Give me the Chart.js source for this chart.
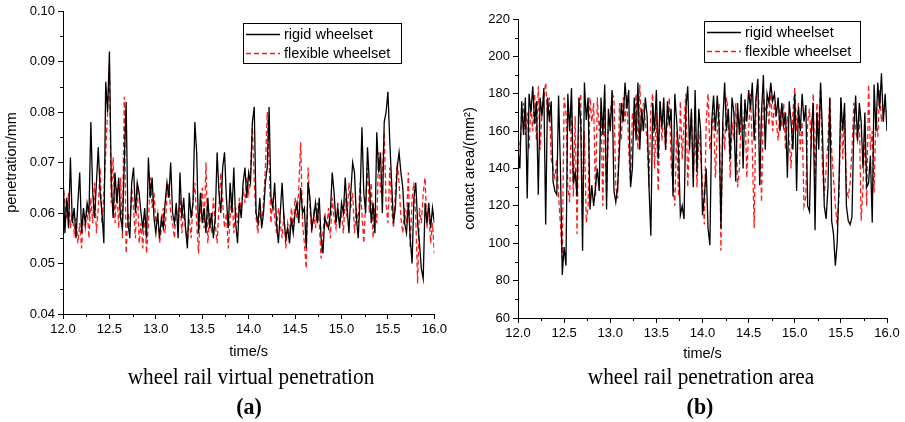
<!DOCTYPE html>
<html>
<head>
<meta charset="utf-8">
<script src="https://cdn.jsdelivr.net/npm/chart.js@4"></script>
<style>
  html,body{margin:0;padding:0;background:#fff;}
  body{width:905px;height:422px;position:relative;overflow:hidden;}
  .cv{position:absolute;top:0;}
  .cap{position:absolute;font-family:"Liberation Serif","Times New Roman",serif;color:#000;text-align:center;white-space:nowrap;transform:translateX(-50%) scaleY(1.08);}
  .sub{font-size:21.3px;top:364px;}
  .lab{font-size:22px;font-weight:bold;top:393px;}
</style>
</head>
<body>
<div class="cv" style="left:0;width:450px;height:365px;"><canvas id="c1" width="450" height="365"></canvas></div>
<div class="cv" style="left:455px;width:450px;height:365px;"><canvas id="c2" width="450" height="365"></canvas></div>
<div class="cap sub" style="left:251px;">wheel rail virtual penetration</div>
<div class="cap lab" style="left:249px;">(a)</div>
<div class="cap sub" style="left:701px;">wheel rail penetration area</div>
<div class="cap lab" style="left:700px;">(b)</div>
<script>
// ---- data ----
const timeStart = 12.0;
const timeStep = 0.02;
const seriesNames = ["rigid wheelset", "flexible wheelset"];
const xTickLabels = ["12.0","12.5","13.0","13.5","14.0","14.5","15.0","15.5","16.0"];

const penetrationRigid = [
0.068,0.056,0.063,0.057,0.071,0.058,0.061,0.055,0.062,0.068,
0.056,0.061,0.058,0.062,0.060,0.078,0.064,0.059,0.066,0.073,
0.064,0.060,0.054,0.086,0.080,0.092,0.066,0.059,0.068,0.062,
0.067,0.059,0.057,0.070,0.082,0.058,0.055,0.066,0.069,0.060,
0.066,0.064,0.060,0.057,0.061,0.055,0.071,0.063,0.067,0.059,
0.056,0.060,0.055,0.059,0.057,0.062,0.066,0.063,0.070,0.060,
0.058,0.062,0.055,0.068,0.059,0.063,0.057,0.053,0.064,0.059,
0.062,0.078,0.072,0.056,0.064,0.058,0.061,0.056,0.063,0.057,
0.060,0.055,0.059,0.072,0.064,0.060,0.069,0.072,0.063,0.057,
0.066,0.060,0.069,0.058,0.054,0.062,0.059,0.066,0.069,0.063,
0.068,0.066,0.078,0.081,0.060,0.058,0.063,0.057,0.060,0.066,
0.069,0.081,0.063,0.061,0.066,0.058,0.054,0.060,0.066,0.059,
0.055,0.057,0.054,0.059,0.056,0.060,0.062,0.058,0.065,0.060,
0.061,0.053,0.066,0.063,0.057,0.059,0.062,0.058,0.063,0.055,
0.052,0.059,0.058,0.057,0.060,0.068,0.064,0.058,0.061,0.057,
0.062,0.060,0.067,0.061,0.056,0.064,0.070,0.068,0.059,0.055,
0.063,0.077,0.064,0.060,0.073,0.066,0.058,0.062,0.056,0.076,
0.068,0.072,0.060,0.078,0.080,0.084,0.074,0.066,0.058,0.061,
0.069,0.072,0.068,0.065,0.058,0.056,0.062,0.055,0.050,0.063,
0.066,0.058,0.054,0.049,0.047,0.062,0.058,0.062,0.057,0.061,
0.058];

const penetrationFlexible = [
0.066,0.062,0.059,0.064,0.057,0.060,0.056,0.059,0.054,0.058,
0.053,0.060,0.057,0.061,0.055,0.063,0.058,0.066,0.056,0.061,
0.069,0.058,0.064,0.072,0.080,0.089,0.062,0.071,0.058,0.065,
0.057,0.067,0.055,0.083,0.052,0.060,0.057,0.065,0.061,0.055,
0.066,0.054,0.058,0.053,0.060,0.052,0.058,0.067,0.061,0.064,
0.058,0.060,0.054,0.057,0.061,0.056,0.064,0.066,0.060,0.058,
0.055,0.061,0.058,0.063,0.056,0.060,0.057,0.054,0.059,0.055,
0.062,0.066,0.058,0.052,0.061,0.065,0.057,0.070,0.054,0.060,
0.056,0.063,0.058,0.054,0.061,0.068,0.062,0.057,0.060,0.053,
0.059,0.064,0.056,0.061,0.058,0.063,0.060,0.065,0.062,0.067,
0.064,0.068,0.077,0.066,0.059,0.056,0.061,0.058,0.062,0.069,
0.080,0.070,0.058,0.063,0.059,0.056,0.061,0.058,0.055,0.060,
0.053,0.058,0.056,0.061,0.057,0.063,0.059,0.065,0.074,0.058,
0.054,0.049,0.069,0.061,0.056,0.060,0.057,0.062,0.058,0.051,
0.056,0.060,0.057,0.061,0.055,0.063,0.059,0.057,0.062,0.058,
0.060,0.056,0.063,0.059,0.066,0.061,0.064,0.056,0.061,0.058,
0.066,0.060,0.054,0.062,0.069,0.060,0.066,0.055,0.061,0.058,
0.072,0.064,0.068,0.076,0.062,0.058,0.069,0.061,0.057,0.064,
0.070,0.066,0.059,0.056,0.061,0.058,0.068,0.053,0.063,0.066,
0.059,0.046,0.061,0.058,0.064,0.067,0.057,0.061,0.054,0.058,
0.052];

const areaRigid = [
150,140,176,158,178,124,180,170,184,164,
176,126,178,168,183,110,178,165,176,133,
128,126,179,140,83,98,88,180,160,183,
132,138,125,178,165,96,186,166,178,118,
131,120,130,140,128,178,158,185,118,172,
160,182,128,122,130,150,175,165,186,172,
182,130,140,178,155,186,150,172,160,178,
168,130,104,175,160,182,145,176,162,178,
150,176,163,172,125,180,165,150,115,120,
113,172,184,150,172,130,182,138,172,160,
115,125,140,108,99,165,179,160,179,163,
108,165,186,160,172,145,178,170,133,175,
158,180,140,177,165,182,172,186,155,178,
188,131,170,190,150,180,175,186,176,180,
168,178,160,175,163,170,135,176,165,150,
180,128,173,160,180,165,174,120,117,160,
175,107,170,150,186,160,120,113,130,178,
112,105,88,100,133,178,160,175,120,112,
110,114,160,179,155,175,165,140,170,130,
132,147,111,185,160,186,172,191,165,180,
160];

const areaFlexible = [
148,152,165,175,158,170,150,175,160,180,
155,184,150,170,178,186,168,178,145,140,
135,145,125,110,92,178,170,130,122,175,
125,168,105,170,180,115,160,111,120,178,
165,175,125,178,160,170,120,180,125,165,
168,180,178,130,124,175,155,178,165,180,
150,132,170,160,180,150,185,160,175,165,
155,130,172,180,140,170,128,176,155,170,
150,165,178,142,132,120,160,125,176,145,
165,180,130,160,170,135,165,130,160,148,
130,110,165,180,150,160,170,135,160,175,
96,165,150,178,170,135,165,155,175,130,
140,170,160,175,135,160,180,150,108,175,
185,165,122,178,170,175,163,182,160,175,
165,155,172,162,175,150,168,155,140,170,
183,160,175,150,165,120,125,165,172,150,
180,130,175,160,185,140,125,140,155,178,
150,135,120,110,125,178,145,170,128,125,
132,150,175,160,155,170,112,130,160,120,
185,150,160,127,170,157,182,165,170,172,
170];

// ---- helpers ----
function toPoints(vals){
  return vals.map((v,i)=>({x: +(timeStart + i*timeStep).toFixed(3), y: v}));
}

const minorTicks = {
  id: 'minorTicks',
  afterDraw(chart, args, o){
    const ctx = chart.ctx, xs = chart.scales.x, ys = chart.scales.y;
    ctx.save();
    ctx.strokeStyle = '#000'; ctx.lineWidth = 1;
    for (let k = 0; ; k++){
      const v = o.xMin + (k + 0.5) * o.xMajor;
      if (v > o.xMax) break;
      const px = Math.round(xs.getPixelForValue(v)) + 0.5;
      ctx.beginPath(); ctx.moveTo(px, ys.bottom); ctx.lineTo(px, ys.bottom + 3); ctx.stroke();
    }
    for (let k = 0; ; k++){
      const v = o.yMin + (k + 0.5) * o.yMajor;
      if (v > o.yMax) break;
      const py = Math.round(ys.getPixelForValue(v)) + 0.5;
      ctx.beginPath(); ctx.moveTo(xs.left, py); ctx.lineTo(xs.left - 3, py); ctx.stroke();
    }
    ctx.restore();
  }
};

const boxLegend = {
  id: 'boxLegend',
  afterDraw(chart, args, o){
    const ctx = chart.ctx;
    ctx.save();
    ctx.strokeStyle = '#000'; ctx.lineWidth = 1;
    ctx.strokeRect(o.x + 0.5, o.y + 0.5, o.w, o.h);
    ctx.font = '14.5px "Liberation Sans", Arial, sans-serif';
    ctx.textBaseline = 'middle';
    chart.data.datasets.forEach((ds, i) => {
      const yy = o.y + 11 + i * 19 + 0.5;
      ctx.beginPath();
      ctx.strokeStyle = ds.borderColor;
      ctx.lineWidth = ds.borderWidth;
      ctx.setLineDash(ds.borderDash || []);
      ctx.moveTo(o.x + 3, yy); ctx.lineTo(o.x + 37, yy); ctx.stroke();
      ctx.setLineDash([]);
      ctx.fillStyle = '#000';
      ctx.fillText(ds.label, o.x + 41, yy);
    });
    ctx.restore();
  }
};

function makeChart(id, rigid, flex, cfg){
  const tickFont = {family: '"Liberation Sans", Arial, sans-serif', size: 13};
  const titleFont = {family: '"Liberation Sans", Arial, sans-serif', size: 14.5};
  return new Chart(document.getElementById(id), {
    type: 'line',
    data: {
      datasets: [
        {label: seriesNames[0], data: toPoints(rigid), borderColor: '#000', borderWidth: 1.3,
         pointRadius: 0, tension: 0, order: 1},
        {label: seriesNames[1], data: toPoints(flex), borderColor: '#ff1a1a', borderWidth: 1.3,
         borderDash: [5, 3], pointRadius: 0, tension: 0, order: 2}
      ]
    },
    options: {
      responsive: false, animation: false,
      layout: {padding: {top: cfg.padTop, right: cfg.padRight, left: 0, bottom: 0}},
      plugins: {legend: {display: false}, tooltip: {enabled: false},
        minorTicks: cfg.minor, boxLegend: cfg.legend},
      scales: {
        x: {
          type: 'linear', min: 12, max: 16,
          afterFit(s){ s.height = cfg.xHeight; },
          afterBuildTicks(s){ s.ticks = xTickLabels.map(l => ({value: parseFloat(l)})); },
          ticks: {color: '#000', font: tickFont, padding: 3, maxRotation: 0,
            callback: (v) => Number(v).toFixed(1)},
          grid: {drawOnChartArea: false, tickLength: 5, color: '#000', tickColor: '#000'},
          border: {color: '#000', width: 1},
          title: {display: true, text: 'time/s', color: '#000', font: titleFont, padding: {top: 0, bottom: cfg.xTitlePad}}
        },
        y: {
          min: cfg.yMin, max: cfg.yMax,
          afterFit(s){ s.width = 63; },
          afterBuildTicks(s){ s.ticks = cfg.yTicks.map(v => ({value: v})); },
          ticks: {color: '#000', font: tickFont, padding: 3,
            callback: (v) => cfg.yFmt(v)},
          grid: {drawOnChartArea: false, tickLength: 5, color: '#000', tickColor: '#000'},
          border: {color: '#000', width: 1},
          title: {display: true, text: cfg.yTitle, color: '#000', font: titleFont, padding: {top: cfg.yTitlePad, bottom: 0}}
        }
      }
    },
    plugins: [minorTicks, boxLegend]
  });
}

const penTicks = [0.04, 0.05, 0.06, 0.07, 0.08, 0.09, 0.10];
const areaTicks = [60, 80, 100, 120, 140, 160, 180, 200, 220];

makeChart('c1', penetrationRigid, penetrationFlexible, {
  padTop: 11, padRight: 14, xHeight: 51, xTitlePad: 4, yTitlePad: 3,
  yMin: 0.04, yMax: 0.10, yTicks: penTicks, yFmt: v => Number(v).toFixed(2),
  yTitle: 'penetration/mm',
  minor: {xMin: 12, xMax: 16, xMajor: 0.5, yMin: 0.04, yMax: 0.10, yMajor: 0.01},
  legend: {x: 243, y: 23, w: 158, h: 40}
});

makeChart('c2', areaRigid, areaFlexible, {
  padTop: 19, padRight: 18, xHeight: 47, xTitlePad: 2, yTitlePad: 6,
  yMin: 60, yMax: 220, yTicks: areaTicks, yFmt: v => String(Math.round(v)),
  yTitle: 'contact area/(mm\u00B2)',
  minor: {xMin: 12, xMax: 16, xMajor: 0.5, yMin: 60, yMax: 220, yMajor: 20},
  legend: {x: 249, y: 21, w: 156, h: 41}
});
</script>
</body>
</html>
